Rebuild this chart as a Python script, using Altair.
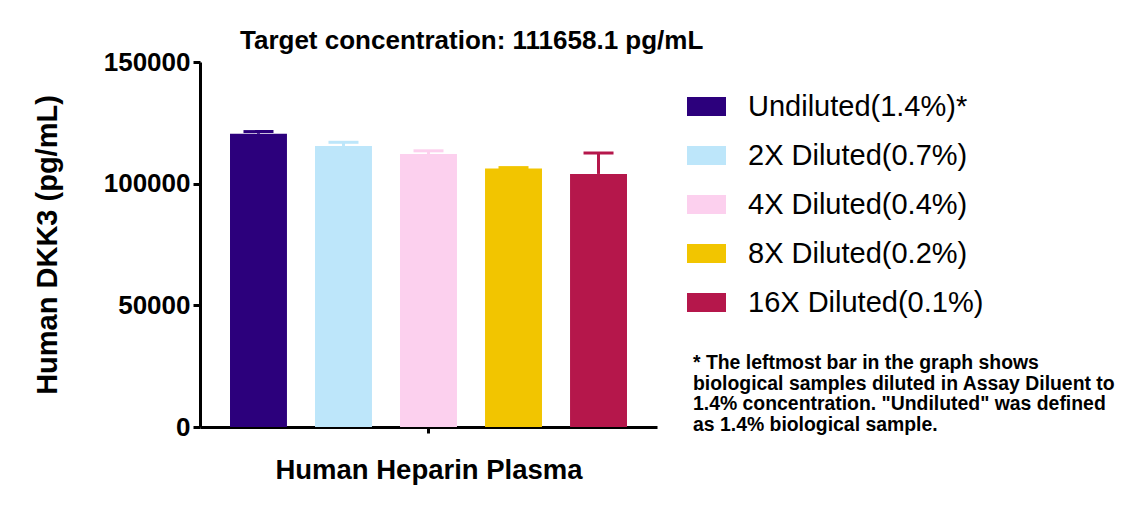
import altair as alt
import pandas as pd

series = ["Undiluted(1.4%)*", "2X Diluted(0.7%)", "4X Diluted(0.4%)",
          "8X Diluted(0.2%)", "16X Diluted(0.1%)"]
means = [120500, 115500, 112200, 106200, 104000]
uppers = [121400, 117000, 113500, 106600, 112600]
colors = ["#2C007C", "#BDE6FA", "#FCD0EE", "#F2C500", "#B5174B"]
group = "Human Heparin Plasma"
title_text = "Target concentration: 111658.1 pg/mL"
footnote = ["* The leftmost bar in the graph shows",
            "biological samples diluted in Assay Diluent to",
            "1.4% concentration. \"Undiluted\" was defined",
            "as 1.4% biological sample."]
y_ticks = [0, 50000, 100000, 150000]

df = pd.DataFrame({"group": group, "series": series, "mean": means,
                   "upper": uppers, "hex": colors})

FONT = "Liberation Sans"

x_enc = alt.X("group:N", scale=alt.Scale(paddingInner=0, paddingOuter=0),
              axis=alt.Axis(labels=False, title=group, tickSize=6, tickWidth=3,
                            tickColor="black", domainColor="black", domainWidth=3,
                            titleFont=FONT, titleFontSize=27.5, titleFontWeight="bold",
                            titleColor="black", titlePadding=22))
xo_enc = alt.XOffset("series:N", sort=series,
                     scale=alt.Scale(paddingInner=0.33, paddingOuter=0.353))

y_scale = alt.Scale(domain=[0, 150000], nice=False)

bars = alt.Chart(df).mark_bar(opacity=1).encode(
    x=x_enc,
    xOffset=xo_enc,
    y=alt.Y("mean:Q", scale=y_scale,
            axis=alt.Axis(values=y_ticks, format="d", grid=False, tickSize=7,
                          tickWidth=3, tickColor="black", domainColor="black",
                          domainWidth=3, labelFont=FONT, labelFontSize=26,
                          labelFontWeight="bold", labelColor="black", labelPadding=3,
                          title="Human DKK3 (pg/mL)", titleFont=FONT,
                          titleFontSize=29, titleFontWeight="bold",
                          titleColor="black", titlePadding=41)),
    color=alt.Color("series:N", sort=series,
                    scale=alt.Scale(domain=series, range=colors),
                    legend=alt.Legend(title=None, orient="none", legendX=487,
                                      legendY=25, padding=0,
                                      symbolType="M-1,-0.487H1V0.487H-1Z",
                                      symbolSize=1521, symbolStrokeWidth=0,
                                      symbolOpacity=1, labelFont=FONT,
                                      labelFontSize=29, labelColor="black",
                                      labelLimit=0, labelOffset=22,
                                      rowPadding=14)),
)

err = alt.Chart(df).mark_rule(strokeWidth=3).encode(
    x=alt.X("group:N"),
    xOffset=alt.XOffset("series:N", sort=series),
    y=alt.Y("mean:Q"),
    y2="upper:Q",
    color=alt.Color("hex:N", scale=None),
)

caps = alt.Chart(df).mark_tick(thickness=3, size=30, opacity=1).encode(
    x=alt.X("group:N"),
    xOffset=alt.XOffset("series:N", sort=series),
    y=alt.Y("upper:Q"),
    color=alt.Color("hex:N", scale=None),
)

note = alt.Chart(pd.DataFrame({"a": [0]})).mark_text(
    text=footnote, align="left", baseline="top", font=FONT, fontSize=19.4,
    fontWeight="bold", lineHeight=20.5, color="black"
).encode(x=alt.value(493), y=alt.value(292))

chart = alt.layer(bars, err, caps, note).properties(
    width=457, height=365,
    autosize=alt.AutoSizeParams(type="none"),
    padding={"left": 192, "top": 54, "right": 470, "bottom": 66},
    title=alt.TitleParams(title_text, anchor="start", dx=40, font=FONT,
                          fontSize=26, fontWeight="bold", color="black",
                          offset=-5, frame="group"),
).configure_view(stroke=None).configure_axis(labelAngle=0)

chart.save("out.html", embed_options={"renderer": "svg", "actions": False})
